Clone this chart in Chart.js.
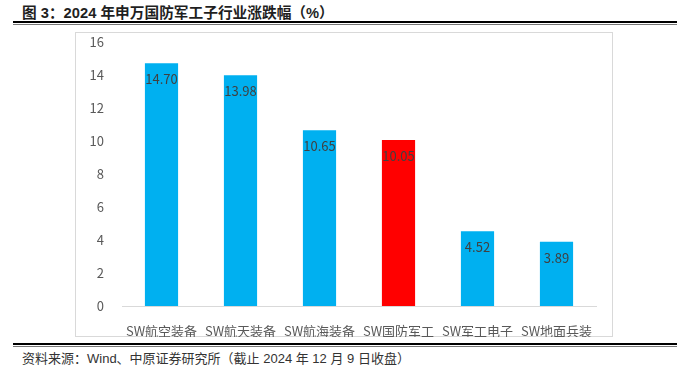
<!DOCTYPE html>
<html lang="zh">
  <head>
    <meta charset="UTF-8" />
    <title>2024 年申万国防军工子行业涨跌幅</title>
    <style>
      body {
        margin: 0;
        padding: 0;
        width: 686px;
        height: 369px;
        background-color: #fff;
        position: relative;
        overflow: hidden;
        font-family: "Liberation Sans", "Noto Sans CJK SC", sans-serif;
      }

      #title {
        position: absolute;
        left: 22px;
        top: 1px;
        font-size: 14.7px;
        font-weight: bold;
        color: #1f1f1f;
        white-space: nowrap;
      }

      .rule {
        position: absolute;
        left: 13px;
        width: 664px;
        border-top: 2px solid #000;
        border-bottom: 1px solid #777;
        height: 1px;
      }

      #box {
        position: absolute;
        left: 75px;
        top: 32px;
        width: 536px;
        height: 303px;
        border: 1px solid #d9d9d9;
      }

      #box canvas {
        position: absolute;
        left: -1px;
        top: -9px;
      }

      #source {
        position: absolute;
        left: 22px;
        top: 348px;
        font-size: 13px;
        color: #333;
        white-space: nowrap;
      }
    </style>
  </head>
  <body>
    <div id="title">图 3：2024 年申万国防军工子行业涨跌幅（%）</div>
    <div class="rule" style="top: 21px"></div>
    <div id="box">
      <canvas id="chart" width="538" height="313"></canvas>
    </div>
    <div class="rule" style="top: 343px"></div>
    <div id="source">资料来源：Wind、中原证券研究所（截止 2024 年 12 月 9 日收盘）</div>

    <script src="https://cdn.jsdelivr.net/npm/chart.js"></script>
    <script>
      // data
      var categories = ["SW航空装备", "SW航天装备", "SW航海装备", "SW国防军工", "SW军工电子", "SW地面兵装"];
      var changes = [14.70, 13.98, 10.65, 10.05, 4.52, 3.89];
      var barColors = ["#00b0f0", "#00b0f0", "#00b0f0", "#ff0000", "#00b0f0", "#00b0f0"];
      var yTicks = [0, 2, 4, 6, 8, 10, 12, 14, 16];

      var tickFont = { family: "'Noto Sans CJK SC', sans-serif", size: 13 };

      // value labels just inside the top of each bar
      var insideLabels = {
        id: "insideLabels",
        afterDatasetsDraw: function (chart) {
          var ctx = chart.ctx;
          var meta = chart.getDatasetMeta(0);
          ctx.save();
          ctx.font = "13px 'Noto Sans CJK SC', sans-serif";
          ctx.fillStyle = "#404040";
          ctx.textAlign = "center";
          ctx.textBaseline = "middle";
          meta.data.forEach(function (bar, i) {
            ctx.fillText(changes[i].toFixed(2), bar.x, bar.y + 16);
          });
          ctx.restore();
        },
      };

      var chart = new Chart(document.getElementById("chart").getContext("2d"), {
        type: "bar",
        data: {
          labels: categories,
          datasets: [
            {
              data: changes,
              backgroundColor: barColors,
              categoryPercentage: 1,
              barPercentage: 0.42,
            },
          ],
        },
        options: {
          responsive: false,
          animation: false,
          layout: { padding: { top: 3, right: 17, left: 0, bottom: 0 } },
          plugins: {
            legend: { display: false },
            tooltip: { enabled: false },
          },
          scales: {
            x: {
              grid: { display: false },
              border: { color: "#d9d9d9", width: 1 },
              ticks: { color: "#595959", font: tickFont, padding: 9, maxRotation: 0 },
              afterFit: function (axis) {
                axis.height = 31;
              },
            },
            y: {
              min: 0,
              max: 16,
              grid: { display: false },
              border: { display: false },
              afterBuildTicks: function (axis) {
                axis.ticks = yTicks.map(function (v) {
                  return { value: v };
                });
              },
              ticks: { color: "#595959", font: tickFont, padding: 10 },
              afterFit: function (axis) {
                axis.width = 47;
              },
            },
          },
        },
        plugins: [insideLabels],
      });
    </script>
  </body>
</html>
